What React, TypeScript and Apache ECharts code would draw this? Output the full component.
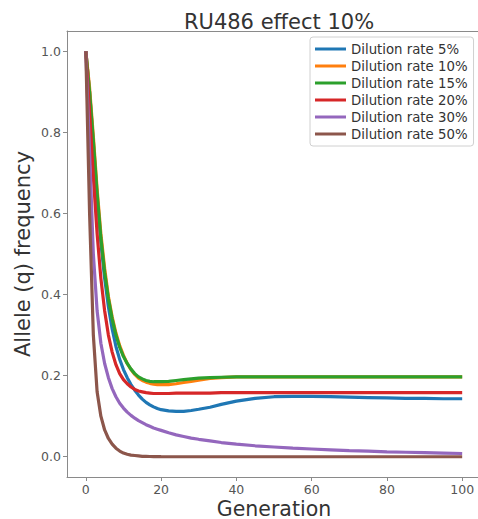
import React, { useEffect, useRef } from "react";
import * as echarts from "echarts";

const TITLE = "RU486 effect 10%";
const X_NAME = "Generation";
const Y_NAME = "Allele (q) frequency";

const generations = [
  0, 1, 2, 3, 4, 5, 6, 7, 8, 9, 10, 11, 12, 13, 14, 15, 16, 17, 18, 19, 20,
  22, 24, 26, 28, 30, 33, 36, 40, 45, 50, 55, 60, 65, 70, 75, 80, 85, 90, 95, 100,
];

const seriesNames = [
  "Dilution rate 5%",
  "Dilution rate 10%",
  "Dilution rate 15%",
  "Dilution rate 20%",
  "Dilution rate 30%",
  "Dilution rate 50%",
];

const colors = ["#1f77b4", "#ff7f0e", "#2ca02c", "#d62728", "#9467bd", "#8c564b"];

const dilution5 = [
  1.0, 0.9, 0.77, 0.64, 0.53, 0.44, 0.37, 0.315, 0.272, 0.24, 0.215, 0.195, 0.178, 0.164, 0.152, 0.142, 0.134, 0.128, 0.123, 0.119, 0.116,
  0.113, 0.112, 0.112, 0.114, 0.117, 0.122, 0.129, 0.137, 0.144, 0.148, 0.149, 0.149, 0.148, 0.147, 0.146, 0.145, 0.144, 0.144, 0.143, 0.143,
];
const dilution10 = [
  1.0, 0.91, 0.79, 0.66, 0.55, 0.465, 0.395, 0.345, 0.305, 0.274, 0.25, 0.23, 0.215, 0.203, 0.194, 0.188, 0.184, 0.181, 0.179, 0.178, 0.178,
  0.178, 0.18, 0.183, 0.186, 0.189, 0.193, 0.195, 0.197, 0.197, 0.197, 0.197, 0.197, 0.197, 0.197, 0.197, 0.197, 0.197, 0.197, 0.197, 0.197,
];
const dilution15 = [
  1.0, 0.9, 0.78, 0.65, 0.54, 0.455, 0.39, 0.34, 0.3, 0.27, 0.247, 0.23, 0.216, 0.205, 0.197, 0.192, 0.188, 0.186, 0.185, 0.185, 0.185,
  0.186, 0.188, 0.19, 0.192, 0.194, 0.195, 0.196, 0.197, 0.197, 0.197, 0.197, 0.197, 0.197, 0.197, 0.197, 0.197, 0.197, 0.197, 0.197, 0.197,
];
const dilution20 = [
  1.0, 0.85, 0.69, 0.55, 0.44, 0.36, 0.3, 0.258, 0.227, 0.205, 0.19, 0.18, 0.172, 0.166, 0.162, 0.16, 0.158, 0.157, 0.156, 0.156, 0.156,
  0.156, 0.157, 0.157, 0.157, 0.157, 0.157, 0.158, 0.158, 0.158, 0.158, 0.158, 0.158, 0.158, 0.158, 0.158, 0.158, 0.158, 0.158, 0.158, 0.158,
];
const dilution30 = [
  1.0, 0.75, 0.5, 0.36, 0.28, 0.23, 0.195, 0.168, 0.148, 0.132, 0.12, 0.11, 0.102, 0.095, 0.089, 0.084, 0.079, 0.075, 0.071, 0.068, 0.065,
  0.059, 0.054, 0.05, 0.046, 0.043, 0.039, 0.035, 0.031, 0.027, 0.024, 0.021, 0.019, 0.017, 0.015, 0.014, 0.012, 0.011, 0.01, 0.009, 0.008,
];
const dilution50 = [
  1.0, 0.6, 0.3, 0.16, 0.1, 0.066, 0.045, 0.031, 0.021, 0.014, 0.009, 0.006, 0.004, 0.003, 0.002, 0.001, 0.001, 0.0005, 0.0003, 0.0002, 0.0001,
  0, 0, 0, 0, 0, 0, 0, 0, 0, 0, 0, 0, 0, 0, 0, 0, 0, 0, 0, 0,
];

const allSeries = [dilution5, dilution10, dilution15, dilution20, dilution30, dilution50];

const xTicks = [0, 20, 40, 60, 80, 100];
const yTicks = [0, 0.2, 0.4, 0.6, 0.8, 1.0];

const FONT = "DejaVu Sans";
const AXIS_COLOR = "#8a8a8a";

export default function App() {
  const ref = useRef<HTMLDivElement>(null);

  useEffect(() => {
    if (!ref.current) return;
    const chart = echarts.init(ref.current, null, { renderer: "svg" });
    chart.setOption({
      animation: false,
      backgroundColor: "#ffffff",
      title: {
        text: TITLE,
        left: 274,
        top: 6,
        textAlign: "center",
        textStyle: { fontFamily: FONT, fontSize: 21, fontWeight: "normal", color: "#333" },
      },
      grid: {
        left: 67,
        top: 31,
        width: 414,
        height: 446,
        show: false,
        containLabel: false,
        outerBoundsMode: "none",
      },
      legend: {
        orient: "vertical",
        left: 310,
        top: 37,
        backgroundColor: "#fff",
        borderColor: "#d0d0d0",
        borderWidth: 1,
        borderRadius: 3,
        padding: [5, 6, 5, 5],
        itemWidth: 31,
        itemHeight: 3,
        itemGap: 3,
        itemTextGap: 8,
        icon: "rect",
        data: seriesNames,
        textStyle: { fontFamily: FONT, fontSize: 13.3, color: "#333", lineHeight: 14 },
      },
      xAxis: [
        {
          type: "value",
          min: -5,
          max: 105,
          name: X_NAME,
          nameLocation: "middle",
          nameGap: 32,
          nameMoveOverlap: false,
          nameTextStyle: {
            fontFamily: FONT,
            fontSize: 20.5,
            color: "#333",
            lineHeight: 20,
            verticalAlign: "middle",
          },
          axisLine: { show: true, onZero: false, lineStyle: { color: AXIS_COLOR } },
          axisTick: { show: true, customValues: xTicks, length: 4, lineStyle: { color: AXIS_COLOR } },
          axisLabel: {
            customValues: xTicks,
            fontFamily: FONT,
            fontSize: 12.5,
            color: "#555",
            margin: 5,
            lineHeight: 14,
          },
          splitLine: { show: false },
        },
        {
          type: "value",
          position: "top",
          min: -5,
          max: 105,
          axisLine: { show: true, onZero: false, lineStyle: { color: AXIS_COLOR } },
          axisTick: { show: false },
          axisLabel: { show: false },
          splitLine: { show: false },
        },
      ],
      yAxis: {
        type: "value",
        min: -0.05,
        max: 1.05,
        name: Y_NAME,
        nameLocation: "middle",
        nameGap: 34,
        nameMoveOverlap: false,
        nameRotate: 90,
        nameTextStyle: { fontFamily: FONT, fontSize: 21, color: "#333" },
        axisLine: { show: true, onZero: false, lineStyle: { color: AXIS_COLOR } },
        axisTick: { show: true, customValues: yTicks, length: 4, lineStyle: { color: AXIS_COLOR } },
        axisLabel: {
          customValues: yTicks,
          fontFamily: FONT,
          fontSize: 12.5,
          color: "#555",
          margin: 6,
          formatter: (v: number) => v.toFixed(1),
        },
        splitLine: { show: false },
      },
      series: allSeries.map((vals, i) => ({
        name: seriesNames[i],
        type: "line",
        xAxisIndex: 0,
        data: generations.map((g, j) => [g, vals[j]]),
        showSymbol: false,
        symbol: "none",
        smooth: false,
        color: colors[i],
        lineStyle: { width: 3.2, color: colors[i] },
        z: 2 + i,
      })),
    });
    return () => chart.dispose();
  }, []);

  return (
    <div
      ref={ref}
      style={{ position: "absolute", left: 0, top: 0, width: 478, height: 519 }}
    />
  );
}
